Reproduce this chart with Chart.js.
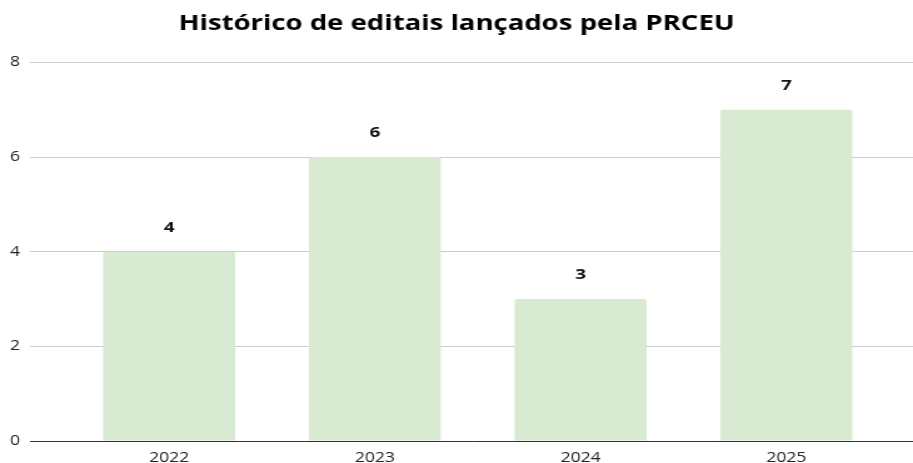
<!DOCTYPE html>
<html><head><meta charset="utf-8">
<script src="https://cdn.jsdelivr.net/npm/chart.js@4"></script>
<style>
html,body{margin:0;padding:0;background:#fff;overflow:hidden}
#w{width:730px;height:463px;transform:scaleX(1.2507);transform-origin:0 0}
</style>
</head><body><div id="w"><canvas id="c"></canvas></div>
<script>
const categories = ['2022', '2023', '2024', '2025'];
const values = [4, 6, 3, 7];
const yTicks = [0, 2, 4, 6, 8];
const titleText = 'Histórico de editais lançados pela PRCEU';

const labelPlugin = {
  id: 'vlabels',
  afterDatasetsDraw(chart) {
    const ctx = chart.ctx;
    const meta = chart.getDatasetMeta(0);
    ctx.save();
    ctx.font = 'bold 15px "Open Sans"';
    ctx.fillStyle = '#111';
    ctx.textAlign = 'center';
    ctx.textBaseline = 'middle';
    meta.data.forEach((bar, i) => {
      ctx.fillText(String(values[i]), bar.x, bar.y - 24);
    });
    ctx.restore();
  }
};

new Chart(document.getElementById('c'), {
  type: 'bar',
  data: {
    datasets: [{
      data: values.map((v, i) => ({x: i, y: v})),
      backgroundColor: '#d9ead3',
      borderRadius: 2,
      borderSkipped: 'bottom',
      barPercentage: 0.642,
      categoryPercentage: 1
    }]
  },
  options: {
    responsive: true,
    maintainAspectRatio: false,
    animation: false,
    layout: {padding: {left: 0, right: 0, top: 0, bottom: 0}},
    plugins: {
      legend: {display: false},
      tooltip: {enabled: false},
      title: {
        display: true,
        text: titleText,
        font: {family: '"Open Sans"', size: 22, weight: 'bold'},
        color: '#000',
        padding: {top: 11, bottom: 25}
      }
    },
    scales: {
      x: {
        type: 'linear',
        offset: false,
        min: -0.676,
        max: 3.616,
        afterBuildTicks(s) { s.ticks = categories.map((c, i) => ({value: i})); },
        afterFit(s) { s.height = 22; },
        ticks: {
          callback: (v) => categories[v],
          font: {family: '"Open Sans"', size: 14},
          color: '#222',
          padding: 9,
          maxRotation: 0,
          autoSkip: false
        },
        grid: {display: false, drawTicks: false},
        border: {display: true, color: '#333', width: 1}
      },
      y: {
        min: 0, max: 8,
        afterBuildTicks(s) { s.ticks = yTicks.map(v => ({value: v})); },
        afterFit(s) { s.width = 24; },
        ticks: {
          font: {family: '"Open Sans"', size: 14},
          color: '#222',
          padding: 8
        },
        grid: {color: '#cccccc', drawTicks: false, lineWidth: 1},
        border: {display: false}
      }
    }
  },
  plugins: [labelPlugin]
});
</script></body></html>
